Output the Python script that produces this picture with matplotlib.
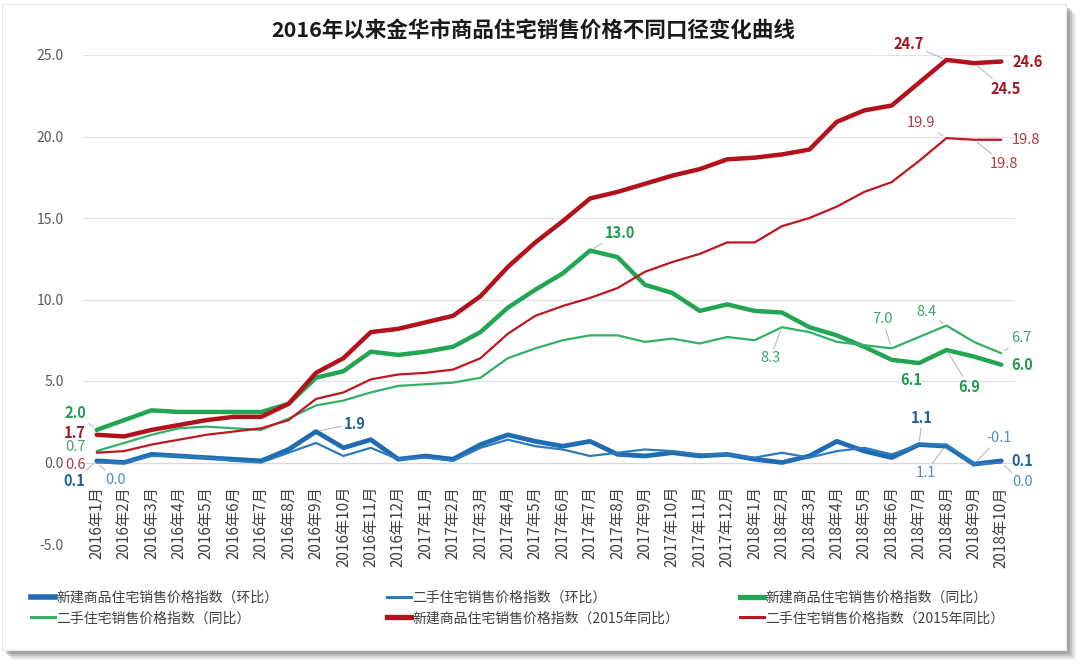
import numpy as np
import matplotlib.pyplot as plt
from matplotlib.patches import Rectangle
from matplotlib.lines import Line2D
from matplotlib.ticker import FormatStrFormatter

plt.rcParams['font.family'] = ['Noto Sans CJK SC', 'DejaVu Sans']

# --- datos ---
meses = ['2016年1月', '2016年2月', '2016年3月', '2016年4月', '2016年5月', '2016年6月',
         '2016年7月', '2016年8月', '2016年9月', '2016年10月', '2016年11月', '2016年12月',
         '2017年1月', '2017年2月', '2017年3月', '2017年4月', '2017年5月', '2017年6月',
         '2017年7月', '2017年8月', '2017年9月', '2017年10月', '2017年11月', '2017年12月',
         '2018年1月', '2018年2月', '2018年3月', '2018年4月', '2018年5月', '2018年6月',
         '2018年7月', '2018年8月', '2018年9月', '2018年10月']

nuevo_mensual = [0.1, 0.0, 0.5, 0.4, 0.3, 0.2, 0.1, 0.8, 1.9, 0.9, 1.4, 0.2, 0.4, 0.2, 1.1, 1.7, 1.3,
                 1.0, 1.3, 0.5, 0.4, 0.6, 0.4, 0.5, 0.2, 0.0, 0.4, 1.3, 0.7, 0.3, 1.1, 1.0, -0.1, 0.1]
usado_mensual = [0.0, 0.0, 0.4, 0.4, 0.3, 0.1, 0.0, 0.6, 1.2, 0.4, 0.9, 0.2, 0.3, 0.1, 0.9, 1.4, 1.0,
                 0.8, 0.4, 0.6, 0.8, 0.7, 0.5, 0.5, 0.3, 0.6, 0.3, 0.7, 0.9, 0.5, 1.1, 1.1, -0.1, 0.0]
nuevo_anual = [2.0, 2.6, 3.2, 3.1, 3.1, 3.1, 3.1, 3.6, 5.2, 5.6, 6.8, 6.6, 6.8, 7.1, 8.0, 9.5, 10.6,
               11.6, 13.0, 12.6, 10.9, 10.4, 9.3, 9.7, 9.3, 9.2, 8.3, 7.8, 7.1, 6.3, 6.1, 6.9, 6.5, 6.0]
usado_anual = [0.7, 1.2, 1.7, 2.1, 2.2, 2.1, 2.0, 2.7, 3.5, 3.8, 4.3, 4.7, 4.8, 4.9, 5.2, 6.4, 7.0,
               7.5, 7.8, 7.8, 7.4, 7.6, 7.3, 7.7, 7.5, 8.3, 8.0, 7.4, 7.2, 7.0, 7.7, 8.4, 7.4, 6.7]
nuevo_2015 = [1.7, 1.6, 2.0, 2.3, 2.6, 2.8, 2.8, 3.6, 5.5, 6.4, 8.0, 8.2, 8.6, 9.0, 10.2, 12.0, 13.5,
              14.8, 16.2, 16.6, 17.1, 17.6, 18.0, 18.6, 18.7, 18.9, 19.2, 20.9, 21.6, 21.9, 23.3, 24.7, 24.5, 24.6]
usado_2015 = [0.6, 0.7, 1.1, 1.4, 1.7, 1.9, 2.1, 2.6, 3.9, 4.3, 5.1, 5.4, 5.5, 5.7, 6.4, 7.9, 9.0,
              9.6, 10.1, 10.7, 11.7, 12.3, 12.8, 13.5, 13.5, 14.5, 15.0, 15.7, 16.6, 17.2, 18.5, 19.9, 19.8, 19.8]

nombres = ['新建商品住宅销售价格指数（环比）', '二手住宅销售价格指数（环比）',
           '新建商品住宅销售价格指数（同比）', '二手住宅销售价格指数（同比）',
           '新建商品住宅销售价格指数（2015年同比）', '二手住宅销售价格指数（2015年同比）']

titulo = '2016年以来金华市商品住宅销售价格不同口径变化曲线'

# estilo de cada serie: (valores, color linea, grosor, color etiqueta, negrita)
series = [
    (nuevo_mensual, '#1f6cb3', 3.4, '#1f5f9e', True),
    (usado_mensual, '#2b7bbd', 1.6, '#4a8fc2', False),
    (nuevo_anual, '#22a654', 3.2, '#1f9a4e', True),
    (usado_anual, '#33b068', 1.6, '#3ea66a', False),
    (nuevo_2015, '#b3121c', 3.2, '#a8131e', True),
    (usado_2015, '#c0161f', 1.6, '#b23a40', False),
]

# etiquetas: (serie, indice, dx px, dy px (hacia abajo), linea guia)
etiquetas = [
    (2, 0, -21, -17, True), (4, 0, -22, -2, False), (3, 0, -21, -4, False),
    (5, 0, -21, 12, False), (0, 0, -22, 20, True), (1, 0, 19, 17, True),
    (0, 8, 39, -8, True), (2, 18, 30, -18, True),
    (4, 31, -38, -16, True), (4, 32, 32, 26, True), (4, 33, 26, 0, False),
    (5, 31, -25, -15, True), (5, 32, 30, 24, True), (5, 33, 25, 0, False),
    (3, 25, -12, 31, True), (3, 29, -9, -29, True), (3, 31, -20, -14, True), (3, 33, 20, -15, True),
    (2, 30, -8, 17, False), (2, 31, 23, 37, True), (2, 33, 21, 0, False),
    (0, 30, 3, -27, True), (1, 31, -21, 28, True), (1, 32, 25, -26, True),
    (0, 33, 21, 0, False), (1, 33, 21, 20, True),
]

W, H = 1080, 667
fig = plt.figure(figsize=(W / 100, H / 100), dpi=100)
fig.patch.set_facecolor('white')

# tarjeta con sombra
for k, a in enumerate([0.10, 0.18, 0.28, 0.40]):
    d = 8 - 2 * k
    fig.add_artist(Rectangle(((4 + d) / W, 1 - (652 + d) / H), 1064 / W, 646 / H,
                             transform=fig.transFigure, color='#7a7a7a', alpha=a, lw=0, zorder=-3))
fig.add_artist(Rectangle((2 / W, 1 - 650 / H), 1064 / W, 646 / H, transform=fig.transFigure,
                         facecolor='white', edgecolor='#e6e6e6', lw=0.8, zorder=-2))

ax = fig.add_axes([83 / W, 1 - 544 / H, 932 / W, 489 / H])
ax.set_facecolor('none')
x = np.arange(len(meses))

for vals, col, lw, _, _ in series:
    ax.plot(x, vals, color=col, lw=lw, solid_joinstyle='round', solid_capstyle='round', zorder=3)

ax.set_xlim(-0.5, len(meses) - 0.5)
ax.set_ylim(-5, 25)
ax.set_yticks(np.arange(-5, 26, 5))
ax.yaxis.set_major_formatter(FormatStrFormatter('%.1f'))
ax.grid(axis='y', color='#e3e3e3', lw=0.9)
ax.set_axisbelow(True)
for s in ['top', 'right', 'left']:
    ax.spines[s].set_visible(False)
ax.spines['bottom'].set_position(('data', 0))
ax.spines['bottom'].set_color('#d9d9d9')
ax.set_xticks(x)
ax.set_xticklabels(meses, rotation=90, fontsize=11, color='#404040')
ax.tick_params(axis='x', length=0, pad=17)
ax.tick_params(axis='y', length=0, pad=14, labelsize=10, labelcolor='#595959')

for si, i, dx, dy, guia in etiquetas:
    vals, _, _, tcol, negrita = series[si]
    v = vals[i]
    props = dict(arrowstyle='-', color='#b0b0b0', lw=0.7, shrinkA=0, shrinkB=3) if guia else None
    ax.annotate(f'{v:.1f}', xy=(i, v), xytext=(dx, -dy), textcoords='offset pixels',
                ha='center', va='center', fontsize=10.5, color=tcol,
                fontweight='bold' if negrita else 'normal', arrowprops=props, zorder=5)

fig.text(533 / W, 1 - 30 / H, titulo, ha='center', va='center', fontsize=15.5,
         fontweight='bold', color='#1a1a1a')

# leyenda en tres columnas
manejadores = [Line2D([], [], color=c, lw=lw + 0.6) for _, c, lw, _, _ in series]
for col, xp in enumerate([31, 387, 740]):
    idx = [col, col + 3]
    fig.legend([manejadores[j] for j in idx], [nombres[j] for j in idx],
               loc='upper left', bbox_to_anchor=(xp / W, 1 - 591 / H), frameon=False,
               fontsize=10, handlelength=1.7, handletextpad=0.15, labelspacing=0.45,
               borderpad=0, borderaxespad=0, labelcolor='#404040')

fig.savefig('out.png', dpi=100)
